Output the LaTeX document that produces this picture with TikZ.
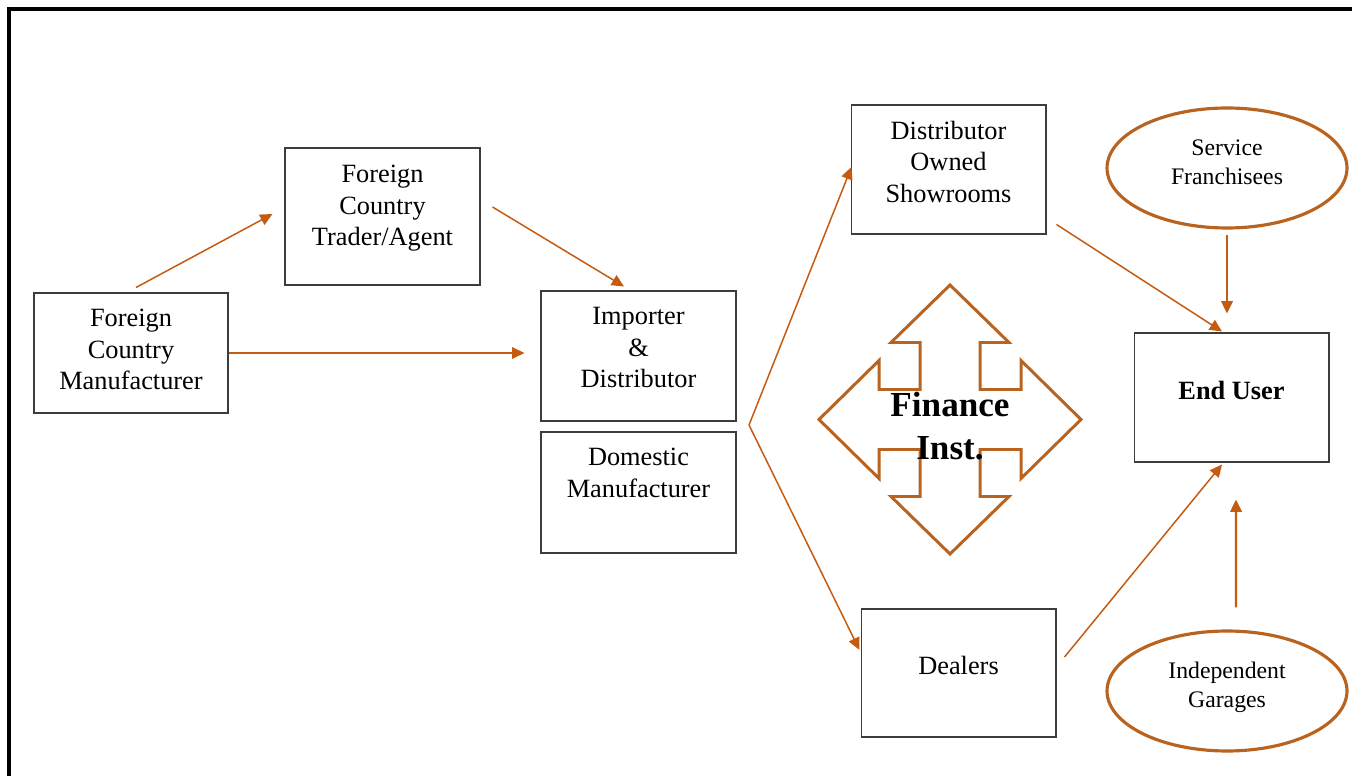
\documentclass[tikz,border=0pt]{standalone}
\usepackage{fontspec}
\setmainfont{Liberation Serif}
\usetikzlibrary{arrows.meta,shapes.geometric,calc,positioning}
\definecolor{LineOrange}{RGB}{197,90,17}
\definecolor{ShapeBrown}{RGB}{184,100,32}
\definecolor{BoxGray}{RGB}{60,60,60}
\tikzset{
  cbox/.style={draw=BoxGray,line width=0.6pt,minimum width=3.9cm,minimum height=2.6cm,
               align=center,font=\fontsize{15}{18}\selectfont,text depth=0.32cm,inner sep=2pt},
  cell/.style={draw=ShapeBrown,ellipse,line width=1.8pt,minimum width=4.8cm,minimum height=2.4cm,
               align=center,font=\fontsize{13.5}{16.5}\selectfont,text depth=0.24cm},
  arr/.style={-{Triangle[length=7pt,width=6.5pt]},LineOrange,line width=0.85pt},
  arrv/.style={arr,line width=1.25pt},
}
\begin{document}
\begin{tikzpicture}[x=0.02cm,y=-0.02cm]
            \useasboundingbox (0,0) rectangle (1352,776);
            \clip (0,0) rectangle (1352,776);
            \draw[line width=2pt] (9,9) rectangle (1420,820);

            \node[cbox, minimum width=3.88cm, minimum height=2.4cm, text depth=0.14cm] (mfr) at (131,353) {Foreign\\Country\\Manufacturer};
            \node[cbox, minimum height=2.74cm, text depth=0.44cm] (trader) at (382.5,216.5) {Foreign\\Country\\Trader/Agent};
            \node[cbox, minimum height=2.6cm, text depth=0.34cm] (importer) at (638.5,356) {Importer\\\&\\Distributor};
            \node[cbox, minimum height=2.42cm, text depth=0.78cm] (domestic) at (638.5,492.5) {Domestic\\Manufacturer};
            \node[cbox, minimum height=2.58cm] (showroom) at (948.5,169.5) {Distributor\\Owned\\Showrooms};
            \node[cbox, minimum height=2.56cm] (dealers) at (958.5,673) {Dealers};
            \node[cbox, minimum height=2.58cm, text depth=0.3cm, font=\fontsize{15}{18}\selectfont\bfseries] (enduser) at (1231.5,397.5) {End User};
            \node[cell] (service) at (1227,168) {Service\\Franchisees};
            \node[cell] (garages) at (1227,691) {Independent\\Garages};

            % four-way arrow
            \begin{scope}[shift={(950,419.5)}]
              \draw[ShapeBrown, line width=1.7pt] (0,-134.5) -- (59,-77) -- (30,-77) -- (30,-30) -- (71,-30) -- (71,-59) -- (131,0) -- (71,59) -- (71,30) -- (30,30) -- (30,77) -- (59,77) -- (0,134.5) -- (-59,77) -- (-30,77) -- (-30,30) -- (-71,30) -- (-71,59) -- (-131,0) -- (-71,-59) -- (-71,-30) -- (-30,-30) -- (-30,-77) -- (-59,-77) -- cycle;
            \end{scope}
            \node[font=\fontsize{20}{24.4}\selectfont\bfseries, align=center] (finance) at (950,426) {Finance\\Inst.};

            \coordinate (split) at (749,425);

            \draw[arr] ([shift={(5,-5)}]mfr.north) -- ([shift={(-12,-2.5)}]trader.west);
            \draw[arr] ([shift={(12,-9.5)}]trader.east) -- ([shift={(-14.5,-4)}]importer.north);
            \draw[arr, shorten >=0.32cm] (mfr.east) -- (mfr.east -| importer.west);
            \draw[arr] (split) -- ([shift={(1,-2.5)}]showroom.west);
            \draw[arr] (split) -- ([shift={(-1,-23)}]dealers.west);
            \draw[arr] ([shift={(10,-10)}]showroom.south east) -- ([shift={(-9.5,-1)}]enduser.north);
            \draw[arrv, shorten <=0.1cm, shorten >=0.38cm] (service.south) -- (service.south |- enduser.north);
            \draw[arr] ([shift={(8,-16)}]dealers.east) -- ([shift={(-9.5,2)}]enduser.south);
            \draw[arrv] ([shift={(9,-22)}]garages.north) -- ([shift={(4.5,37)}]enduser.south);
          \end{tikzpicture}
\end{document}
